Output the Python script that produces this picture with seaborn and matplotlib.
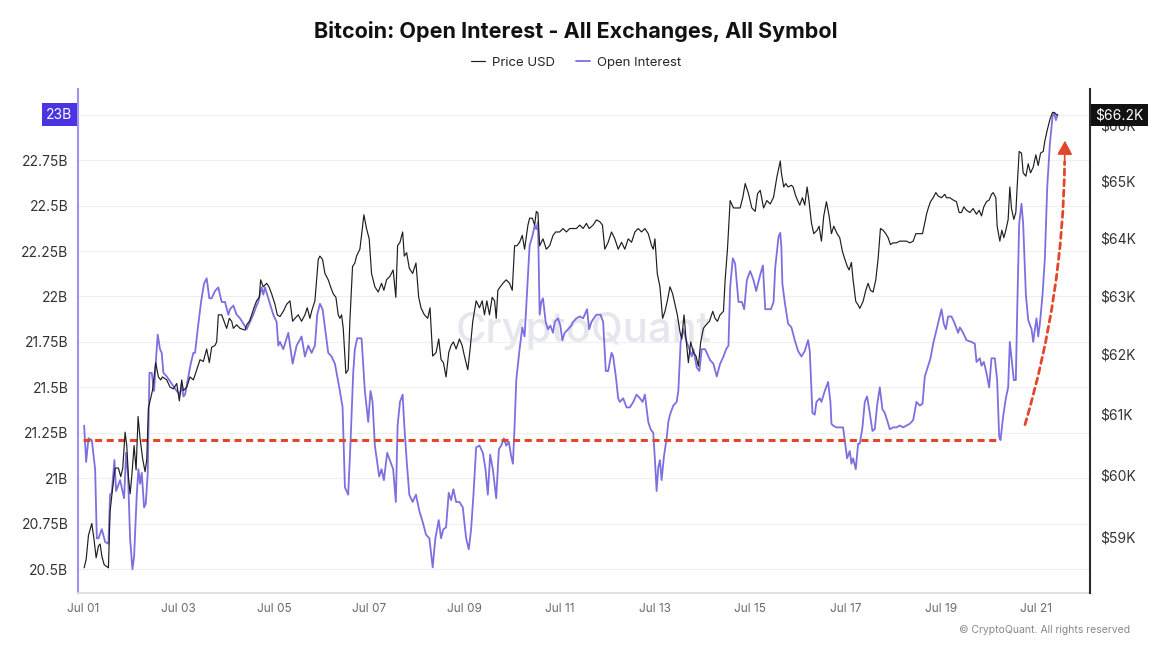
import numpy as np
import pandas as pd
import matplotlib
matplotlib.use("Agg")
import matplotlib.pyplot as plt
import matplotlib.dates as mdates
from matplotlib.ticker import FixedLocator, FuncFormatter, NullLocator
import seaborn as sns

# time axis: days after Jul 01 00:00
oi_days = [0.014, 0.056, 0.105, 0.175, 0.245, 0.280, 0.315, 0.385, 0.455, 0.524, 0.559, 0.594, 0.650, 0.685, 0.769,
           0.853, 0.895, 0.937, 0.979, 1.028, 1.063, 1.119, 1.154, 1.189, 1.224, 1.273, 1.308, 1.350, 1.385, 1.434,
           1.483, 1.517, 1.559, 1.608, 1.643, 1.678, 1.748, 1.853, 1.958, 2.028, 2.063, 2.098, 2.133, 2.203, 2.252,
           2.308, 2.343, 2.399, 2.469, 2.531, 2.587, 2.643, 2.692, 2.762, 2.832, 2.902, 2.972, 3.042, 3.077, 3.147,
           3.217, 3.287, 3.427, 3.497, 3.566, 3.636, 3.671, 3.741, 3.776, 3.811, 3.881, 3.986, 4.056, 4.091, 4.126,
           4.196, 4.301, 4.350, 4.392, 4.476, 4.580, 4.650, 4.720, 4.790, 4.860, 4.909, 4.965, 5.021, 5.140, 5.210,
           5.280, 5.385, 5.441, 5.490, 5.559, 5.608, 5.664, 5.699, 5.748, 5.839, 5.909, 5.979, 6.028, 6.070, 6.119,
           6.210, 6.259, 6.308, 6.378, 6.434, 6.503, 6.559, 6.596, 6.646, 6.702, 6.737, 6.786, 6.842, 6.912, 6.982,
           7.053, 7.123, 7.193, 7.263, 7.333, 7.389, 7.460, 7.509, 7.558, 7.614, 7.670, 7.719, 7.768, 7.825, 7.895,
           7.965, 8.035, 8.091, 8.140, 8.189, 8.246, 8.316, 8.386, 8.442, 8.491, 8.540, 8.596, 8.667, 8.723, 8.772,
           8.828, 8.877, 8.933, 8.982, 9.018, 9.053, 9.088, 9.158, 9.214, 9.263, 9.312, 9.368, 9.425, 9.474, 9.509,
           9.544, 9.579, 9.614, 9.649, 9.705, 9.754, 9.804, 9.860, 9.895, 9.965, 10.014, 10.056, 10.105, 10.175,
           10.246, 10.281, 10.351, 10.421, 10.491, 10.526, 10.575, 10.618, 10.667, 10.716, 10.772, 10.856, 10.912,
           10.968, 11.018, 11.088, 11.123, 11.179, 11.228, 11.263, 11.333, 11.404, 11.474, 11.544, 11.614, 11.684,
           11.740, 11.789, 11.860, 11.909, 11.965, 12.000, 12.035, 12.070, 12.105, 12.140, 12.189, 12.246, 12.281,
           12.316, 12.386, 12.456, 12.491, 12.540, 12.596, 12.667, 12.723, 12.772, 12.807, 12.877, 12.933, 12.982,
           13.053, 13.123, 13.158, 13.228, 13.298, 13.368, 13.439, 13.495, 13.544, 13.579, 13.635, 13.684, 13.754,
           13.825, 13.874, 13.930, 14.000, 14.070, 14.126, 14.211, 14.267, 14.316, 14.386, 14.435, 14.491, 14.526,
           14.596, 14.632, 14.655, 14.676, 14.725, 14.796, 14.866, 14.936, 15.006, 15.076, 15.146, 15.216, 15.251,
           15.307, 15.356, 15.391, 15.461, 15.496, 15.566, 15.636, 15.685, 15.706, 15.741, 15.811, 15.881, 15.951,
           15.986, 16.035, 16.091, 16.126, 16.161, 16.217, 16.266, 16.301, 16.357, 16.406, 16.455, 16.511, 16.567,
           16.616, 16.665, 16.721, 16.777, 16.826, 16.875, 16.931, 17.001, 17.071, 17.141, 17.211, 17.282, 17.352,
           17.422, 17.492, 17.562, 17.618, 17.667, 17.737, 17.786, 17.842, 17.898, 17.947, 18.017, 18.066, 18.108,
           18.157, 18.227, 18.297, 18.367, 18.402, 18.472, 18.542, 18.647, 18.717, 18.752, 18.822, 18.857, 18.906,
           18.962, 19.018, 19.067, 19.137, 19.186, 19.228, 19.256, 19.312, 19.368, 19.417, 19.452, 19.487, 19.536,
           19.578, 19.606, 19.648, 19.697, 19.732, 19.789, 19.838, 19.908, 19.943, 19.978, 20.013, 20.048, 20.083,
           20.139, 20.188, 20.237, 20.293, 20.349, 20.384, 20.419, 20.454]
# open interest, billion USD
oi_values = [21.29, 21.09, 21.22, 21.21, 21.05, 20.67, 20.67, 20.72, 20.65, 20.64, 20.91, 20.92, 21.10, 20.93, 20.99,
             20.89, 21.14, 21.01, 20.67, 20.50, 20.57, 20.91, 21.05, 20.97, 21.03, 20.84, 20.86, 21.03, 21.58, 21.58,
             21.48, 21.63, 21.79, 21.71, 21.69, 21.58, 21.56, 21.52, 21.48, 21.46, 21.52, 21.45, 21.46, 21.56, 21.63,
             21.69, 21.69, 21.82, 21.97, 22.07, 22.10, 21.99, 21.99, 22.03, 22.05, 21.97, 21.97, 21.90, 21.93, 21.95,
             21.90, 21.88, 21.82, 21.86, 21.90, 21.95, 21.97, 22.05, 22.01, 22.05, 21.99, 21.90, 21.86, 21.73, 21.75,
             21.71, 21.80, 21.71, 21.63, 21.73, 21.78, 21.67, 21.73, 21.69, 21.73, 21.90, 21.96, 21.93, 21.69, 21.67,
             21.63, 21.48, 21.39, 20.95, 20.91, 21.20, 21.58, 21.71, 21.77, 21.77, 21.48, 21.31, 21.48, 21.42, 21.18,
             21.01, 21.05, 20.99, 21.14, 21.10, 21.05, 20.87, 21.29, 21.42, 21.46, 21.29, 21.10, 20.91, 20.87, 20.91,
             20.82, 20.76, 20.69, 20.67, 20.51, 20.67, 20.77, 20.67, 20.72, 20.73, 20.92, 20.88, 20.94, 20.87, 20.87,
             20.84, 20.67, 20.61, 20.72, 20.91, 21.17, 21.18, 21.14, 21.05, 20.91, 21.13, 21.05, 20.89, 21.16, 21.18,
             21.22, 21.18, 21.20, 21.12, 21.08, 21.29, 21.54, 21.71, 21.83, 21.78, 22.01, 22.28, 22.33, 22.39, 22.37,
             22.41, 21.90, 21.97, 21.99, 21.86, 21.82, 21.84, 21.80, 21.86, 21.88, 21.84, 21.76, 21.80, 21.82,
             21.84, 21.86, 21.88, 21.89, 21.88, 21.90, 21.93, 21.82, 21.86, 21.88, 21.90, 21.90, 21.86,
             21.59, 21.59, 21.69, 21.67, 21.56, 21.44, 21.42, 21.44, 21.39, 21.39, 21.42, 21.46, 21.44,
             21.42, 21.46, 21.31, 21.27, 21.25, 21.10, 20.93, 21.06, 21.10, 20.99, 21.12, 21.22, 21.31,
             21.35, 21.40, 21.42, 21.48, 21.75, 21.82, 21.75, 21.71, 21.67, 21.71, 21.61, 21.59, 21.71,
             21.71, 21.67, 21.65, 21.63, 21.56, 21.63, 21.67, 21.71, 21.73, 22.05, 22.21, 22.18, 21.97,
             21.97, 21.93, 22.09, 22.14, 22.09, 22.03, 22.12, 22.17, 21.93, 21.93, 21.93, 21.97, 22.16,
             22.33, 22.35, 22.27, 22.07, 21.97, 21.85, 21.83, 21.76, 21.70, 21.67, 21.70, 21.76, 21.70,
             21.36, 21.35, 21.42, 21.44, 21.42, 21.48, 21.53, 21.42, 21.30, 21.29, 21.28, 21.28, 21.28,
             21.21, 21.11, 21.15, 21.08, 21.11, 21.05, 21.19, 21.19, 21.28, 21.42, 21.45, 21.36, 21.26,
             21.27, 21.40, 21.50, 21.38, 21.36, 21.32, 21.27, 21.28, 21.28, 21.29, 21.28, 21.29, 21.30,
             21.32, 21.42, 21.40, 21.41, 21.56, 21.62, 21.66, 21.74, 21.80, 21.85, 21.93, 21.85, 21.82,
             21.89, 21.89, 21.85, 21.80, 21.83, 21.80, 21.76, 21.75, 21.74, 21.64, 21.66, 21.62, 21.64,
             21.58, 21.50, 21.66, 21.66, 21.54, 21.23, 21.21, 21.34, 21.44, 21.50, 21.75, 21.66, 21.54,
             21.54, 21.91, 22.40, 22.51, 22.40, 22.01, 21.87, 21.82, 21.75, 21.82, 21.88, 21.78, 21.85,
             22.01, 22.21, 22.60, 22.84, 22.99, 23.01, 22.97, 23.00]

price_days = [0.014, 0.056, 0.105, 0.175, 0.224, 0.266, 0.315, 0.350, 0.385, 0.434, 0.490, 0.524, 0.559, 0.615, 0.664,
              0.734, 0.783, 0.825, 0.874, 0.909, 0.944, 0.979, 1.014, 1.063, 1.105, 1.147, 1.189, 1.245, 1.294, 1.329,
              1.364, 1.399, 1.448, 1.483, 1.517, 1.573, 1.622, 1.657, 1.748, 1.818, 1.888, 1.958, 2.014, 2.063, 2.098,
              2.168, 2.238, 2.308, 2.378, 2.448, 2.517, 2.587, 2.643, 2.692, 2.762, 2.797, 2.832, 2.902, 2.951, 3.007,
              3.063, 3.112, 3.147, 3.217, 3.287, 3.392, 3.427, 3.483, 3.532, 3.580, 3.636, 3.692, 3.720, 3.776, 3.846,
              3.895, 3.951, 4.021, 4.070, 4.126, 4.196, 4.266, 4.336, 4.392, 4.441, 4.510, 4.580, 4.650, 4.699, 4.755,
              4.790, 4.860, 4.930, 4.965, 5.021, 5.070, 5.140, 5.189, 5.245, 5.301, 5.350, 5.385, 5.420, 5.455, 5.510,
              5.559, 5.594, 5.650, 5.699, 5.734, 5.804, 5.839, 5.888, 5.944, 6.000, 6.049, 6.119, 6.189, 6.259, 6.308,
              6.364, 6.434, 6.503, 6.559, 6.596, 6.646, 6.702, 6.737, 6.786, 6.842, 6.912, 6.982, 7.039, 7.088, 7.158,
              7.228, 7.277, 7.333, 7.404, 7.460, 7.509, 7.558, 7.614, 7.670, 7.719, 7.768, 7.825, 7.895, 7.951, 8.000,
              8.070, 8.119, 8.175, 8.246, 8.316, 8.372, 8.421, 8.470, 8.526, 8.582, 8.632, 8.667, 8.702, 8.751, 8.807,
              8.877, 8.947, 9.004, 9.053, 9.102, 9.158, 9.214, 9.263, 9.333, 9.368, 9.425, 9.474, 9.509, 9.544, 9.579,
              9.649, 9.719, 9.789, 9.860, 9.916, 10.000, 10.070, 10.140, 10.211, 10.281, 10.351, 10.421, 10.491,
              10.561, 10.618, 10.702, 10.772, 10.842, 10.898, 10.947, 11.018, 11.088, 11.158, 11.228, 11.298, 11.368,
              11.439, 11.509, 11.579, 11.649, 11.719, 11.789, 11.860, 11.930, 11.965, 12.000, 12.049, 12.105, 12.161,
              12.211, 12.260, 12.316, 12.372, 12.421, 12.470, 12.526, 12.561, 12.611, 12.653, 12.702, 12.751, 12.807,
              12.863, 12.912, 12.961, 13.018, 13.074, 13.144, 13.214, 13.263, 13.312, 13.368, 13.439, 13.474, 13.523,
              13.579, 13.649, 13.719, 13.789, 13.846, 13.895, 13.965, 14.035, 14.105, 14.154, 14.211, 14.281, 14.351,
              14.421, 14.491, 14.561, 14.632, 14.655, 14.704, 14.746, 14.796, 14.866, 14.901, 14.957, 15.006, 15.041,
              15.097, 15.146, 15.195, 15.237, 15.286, 15.335, 15.405, 15.447, 15.496, 15.545, 15.601, 15.657, 15.706,
              15.755, 15.825, 15.881, 15.937, 15.986, 16.035, 16.077, 16.126, 16.161, 16.217, 16.266, 16.301, 16.371,
              16.427, 16.476, 16.525, 16.581, 16.637, 16.686, 16.735, 16.791, 16.847, 16.896, 16.945, 17.001, 17.071,
              17.141, 17.211, 17.282, 17.352, 17.422, 17.478, 17.548, 17.618, 17.667, 17.702, 17.737, 17.786, 17.842,
              17.898, 17.947, 18.017, 18.087, 18.122, 18.192, 18.262, 18.332, 18.388, 18.437, 18.487, 18.542, 18.612,
              18.682, 18.752, 18.808, 18.857, 18.906, 18.962, 19.018, 19.067, 19.102, 19.158, 19.186, 19.242, 19.284,
              19.326, 19.368, 19.417, 19.452, 19.487, 19.536, 19.578, 19.606, 19.648, 19.697, 19.732, 19.789, 19.838,
              19.887, 19.943, 19.998, 20.048, 20.097, 20.153, 20.188, 20.237, 20.293, 20.349, 20.384, 20.419, 20.454]
# BTC price, thousand USD
price_k = [58.50, 58.63, 59.02, 59.21, 58.94, 58.66, 58.85, 58.88, 58.69, 58.55, 58.52, 58.50, 59.41, 59.80, 60.11,
           60.11, 59.97, 60.11, 60.70, 60.48, 59.97, 59.69, 59.97, 60.48, 60.08, 60.96, 60.59, 60.25, 60.05, 60.25,
           61.10, 61.22, 61.39, 61.62, 61.86, 61.62, 61.57, 61.62, 61.57, 61.45, 61.42, 61.51, 61.22, 61.57, 61.39,
           61.45, 61.62, 61.57, 61.74, 61.91, 61.88, 62.09, 61.86, 62.12, 62.15, 62.21, 62.67, 62.67, 62.56, 62.44,
           62.61, 62.56, 62.44, 62.50, 62.44, 62.41, 62.50, 62.56, 62.67, 62.79, 62.91, 62.97, 63.27, 63.15, 63.21,
           63.15, 63.03, 62.85, 62.67, 62.64, 62.73, 62.85, 62.91, 62.56, 62.61, 62.67, 62.56, 62.67, 62.79, 62.61,
           62.73, 62.91, 63.62, 63.68, 63.62, 63.38, 63.27, 63.15, 63.03, 62.97, 62.67, 62.61, 62.67, 62.44, 61.68,
           61.74, 62.56, 63.50, 63.56, 63.68, 63.80, 64.04, 64.40, 64.16, 63.98, 63.38, 63.15, 63.06, 63.21, 63.09,
           63.27, 63.33, 63.44, 62.97, 63.86, 63.92, 64.10, 63.68, 63.74, 63.47, 63.38, 63.56, 62.97, 62.79, 62.67,
           62.61, 62.79, 61.97, 62.03, 62.26, 61.91, 61.86, 61.62, 62.03, 62.15, 62.21, 62.09, 62.26, 62.15, 61.97,
           61.74, 62.09, 62.56, 62.91, 62.79, 62.91, 62.67, 62.91, 62.67, 62.97, 62.91, 62.61, 63.09, 63.15, 63.21,
           63.27, 63.21, 63.09, 63.86, 63.86, 63.92, 64.04, 63.80, 64.22, 64.34, 64.34, 64.22, 64.46, 64.43, 63.86,
           63.98, 63.80, 63.86, 64.04, 64.10, 64.10, 64.16, 64.10, 64.16, 64.16, 64.16, 64.22, 64.16,
           64.25, 64.16, 64.22, 64.31, 64.28, 64.22, 63.80, 63.92, 64.10, 63.98, 63.80, 63.92, 63.80,
           63.98, 63.92, 64.10, 64.16, 64.10, 64.16, 64.07, 63.86, 63.80, 63.98, 63.38, 63.15, 62.61,
           62.73, 62.91, 63.15, 63.03, 62.85, 62.67, 62.38, 62.26, 62.67, 62.26, 61.86, 62.21, 62.03,
           61.97, 61.80, 62.21, 62.44, 62.50, 62.56, 62.73, 62.61, 62.56, 62.67, 62.73, 63.27, 63.80,
           64.65, 64.52, 64.52, 64.52, 64.71, 64.95, 64.77, 64.52, 64.46, 64.77, 64.83, 64.52, 64.65,
           64.59, 64.71, 65.07, 65.35, 65.14, 64.89, 64.95, 64.89, 64.92, 64.89, 64.73, 64.63, 64.57,
           64.70, 64.57, 64.89, 64.63, 64.26, 64.07, 64.13, 64.20, 63.94, 64.38, 64.63, 64.38, 64.07,
           64.20, 64.07, 64.00, 63.76, 63.63, 63.51, 63.44, 63.57, 63.27, 62.90, 62.84, 62.78, 62.90,
           63.09, 63.21, 63.09, 63.06, 63.27, 63.63, 64.16, 64.13, 64.07, 64.00, 63.88, 63.91, 63.91,
           63.94, 63.94, 63.94, 63.91, 63.94, 64.07, 64.07, 64.07, 64.26, 64.41, 64.51, 64.63, 64.70,
           64.79, 64.73, 64.70, 64.76, 64.70, 64.70, 64.66, 64.63, 64.44, 64.44, 64.54, 64.48, 64.44,
           64.51, 64.41, 64.48, 64.38, 64.54, 64.63, 64.66, 64.76, 64.79, 64.70, 64.20, 63.94, 64.13,
           64.00, 64.13, 64.32, 64.89, 64.51, 64.32, 64.44, 64.89, 65.52, 65.49, 65.14, 65.08, 65.30,
           65.14, 65.24, 65.46, 65.27, 65.49, 65.52, 65.71, 65.90, 66.09, 66.22, 66.22, 66.19, 66.17]

oi_ticks = [20.5, 20.75, 21, 21.25, 21.5, 21.75, 22, 22.25, 22.5, 22.75, 23]
price_ticks = [59, 60, 61, 62, 63, 64, 65, 66]

# annotation: support level and breakout arrow
support_oi = 21.21
support_end_day = 19.22
arrow_start = (19.77, 21.295)
arrow_end = (20.61, 22.857)
head_base = (20.603, 22.74)

OI_COLOR = "#7c70e0"
PRICE_COLOR = "#1e1e1e"
RED = "#e2472b"

sns.set_theme(style="white")
plt.rcParams["font.family"] = ["Inter", "DejaVu Sans"]

base = pd.Timestamp("2024-07-01")
def to_time(days):
    return base + pd.to_timedelta(np.asarray(days), unit="D")

def to_num(day):
    return mdates.date2num((base + pd.Timedelta(days=day)).to_pydatetime())

oi_df = pd.DataFrame({"time": to_time(oi_days), "oi": oi_values})
price_df = pd.DataFrame({"time": to_time(price_days), "price": price_k})

fig = plt.figure(figsize=(11.52, 6.46), dpi=100)
ax = fig.add_axes([0.0677, 0.082, 0.8785, 0.7802])
ax2 = ax.twinx()

sns.lineplot(data=oi_df, x="time", y="oi", ax=ax, color=OI_COLOR, linewidth=1.3,
             estimator=None, legend=False, label="Open Interest")
sns.lineplot(data=price_df, x="time", y="price", ax=ax2, color=PRICE_COLOR, linewidth=0.85,
             estimator=None, legend=False, label="Price USD")

# support level
ax.hlines(support_oi, to_num(0), to_num(support_end_day), colors=RED,
          linewidth=2.2, linestyles=(0, (2.3, 1.5)), zorder=4)
# dashed curved shaft, then a solid head at the tip
ax.annotate("", xy=(to_num(head_base[0]), head_base[1]),
            xytext=(to_num(arrow_start[0]), arrow_start[1]),
            arrowprops=dict(arrowstyle="-", color=RED, lw=2.0,
                            linestyle=(0, (2.2, 1.6)), shrinkA=0, shrinkB=0,
                            connectionstyle="arc3,rad=0.07"), zorder=6)
ax.annotate("", xy=(to_num(arrow_end[0]), arrow_end[1]),
            xytext=(to_num(head_base[0]), head_base[1]),
            arrowprops=dict(arrowstyle="-|>,head_length=0.7,head_width=0.38", color=RED, lw=1.2,
                            shrinkA=0, shrinkB=0), zorder=6)

# axes ranges
ax.set_xlim(to_num(-0.115), to_num(21.136))
ax.set_ylim(20.369, 23.141)
ax2.set_yscale("log")
ax2.set_ylim(58.10, 66.643)

ax.xaxis.set_major_locator(mdates.DayLocator(bymonthday=range(1, 22, 2)))
ax.xaxis.set_major_formatter(mdates.DateFormatter("%b %d"))
ax.yaxis.set_major_locator(FixedLocator(oi_ticks))
# the top tick is shown by the last-value badge instead
ax.yaxis.set_major_formatter(FuncFormatter(lambda v, p: "" if v == oi_ticks[-1] else f"{v:g}B"))
ax2.yaxis.set_major_locator(FixedLocator(price_ticks))
ax2.yaxis.set_minor_locator(NullLocator())
ax2.yaxis.set_major_formatter(FuncFormatter(lambda v, p: f"${v:g}K"))

ax.set_xlabel("")
ax.set_ylabel("")
ax2.set_ylabel("")
ax.grid(axis="y", color="#efefef", linewidth=0.8)
ax.grid(axis="x", visible=False)
ax2.grid(False)

ax.tick_params(axis="x", length=3, color="#d0d0d0", labelcolor="#6b6b6b", labelsize=8.5, pad=4)
ax.tick_params(axis="y", length=0, labelsize=10, labelcolor="#333333", pad=7)
ax2.tick_params(axis="y", which="both", length=0, labelsize=10, labelcolor="#333333", pad=7)

for a in (ax, ax2):
    a.spines["top"].set_visible(False)
ax.spines["right"].set_visible(False)
ax.spines["bottom"].set_color("#dddddd")
ax2.spines["bottom"].set_visible(False)
ax2.spines["left"].set_visible(False)
ax.spines["left"].set_color("#9d94ef")
ax.spines["left"].set_linewidth(1.5)
ax2.spines["right"].set_color("#2a2a2a")
ax2.spines["right"].set_linewidth(1.5)

# last value badges
ax.annotate(f"{oi_values[-1]:g}B", xy=(0, oi_values[-1]), xycoords=("axes fraction", "data"),
            xytext=(-4, 0), textcoords="offset points", ha="right", va="center",
            fontsize=10, color="white", zorder=10, annotation_clip=False,
            bbox=dict(boxstyle="square,pad=0.3", fc="#4b35e2", ec="none"))
ax2.annotate(f"${price_k[-1]:.1f}K", xy=(1, price_k[-1]), xycoords=("axes fraction", "data"),
             xytext=(4, 0), textcoords="offset points", ha="left", va="center",
             fontsize=10, color="white", zorder=10, annotation_clip=False,
             bbox=dict(boxstyle="square,pad=0.3", fc="#111111", ec="none"))

# watermark
ax.text(0.5, 0.52, "CryptoQuant", transform=ax.transAxes, ha="center", va="center",
        fontsize=30, color="#e6e6ee", fontweight="medium", zorder=0)

fig.text(0.5, 1 - 32 / 646, "Bitcoin: Open Interest - All Exchanges, All Symbol", ha="center", va="center",
         fontsize=15.5, fontweight="bold", color="#111111")
fig.legend(handles=[ax2.get_lines()[0], ax.get_lines()[0]], labels=["Price USD", "Open Interest"],
           loc="center", bbox_to_anchor=(0.5, 1 - 63 / 646), ncol=2, frameon=False,
           fontsize=9.5, handlelength=1.1, handletextpad=0.5, columnspacing=1.6)
fig.text(0.981, 1 - 630 / 646, "© CryptoQuant. All rights reserved", ha="right", va="center",
         fontsize=7.5, color="#888888")

fig.savefig("out.png", dpi=100)
